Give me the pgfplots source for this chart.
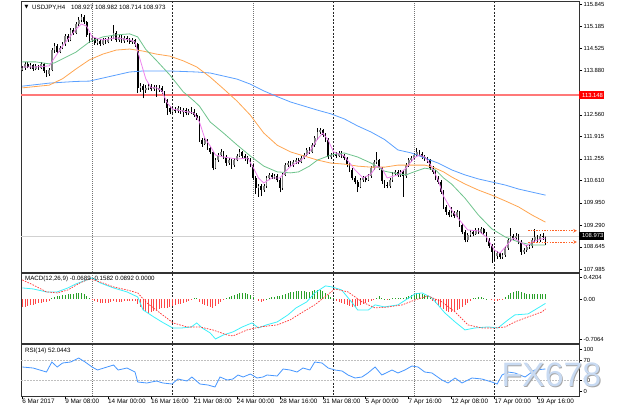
\documentclass[border=0pt]{standalone}
\usepackage{pgfplots}
\pgfplotsset{compat=1.18}
\usepackage{pgfplotstable}
\usepackage{fontspec}
\setmainfont{Liberation Sans}
\newfontfamily\dejavu{DejaVu Sans}
\definecolor{mtpink}{RGB}{238,130,238}
\definecolor{mtgreen}{RGB}{110,195,140}
\definecolor{mtorange}{RGB}{255,165,80}
\definecolor{mtblue}{RGB}{90,160,255}
\definecolor{hgreen}{RGB}{40,160,40}
\definecolor{hred}{RGB}{255,70,70}
\definecolor{sigred}{RGB}{255,50,50}
\definecolor{macdcyan}{RGB}{60,240,250}
\definecolor{rsiblue}{RGB}{70,150,255}
\definecolor{levred}{RGB}{255,120,120}
\definecolor{arrorange}{RGB}{255,100,40}
\definecolor{wmark}{RGB}{200,218,242}

\pgfplotstableread{
i o h l c
0 113.90 114.00 113.85 113.95
1 113.95 114.12 113.90 114.07
2 114.07 114.13 113.94 113.98
3 113.98 114.09 113.93 114.04
4 114.04 114.08 113.87 113.92
5 113.92 114.06 113.88 114.01
6 114.01 114.05 113.90 113.95
7 113.95 114.12 113.92 114.07
8 114.07 114.10 113.80 113.86
9 113.86 113.90 113.68 113.77
10 113.77 113.95 113.72 113.89
11 113.89 114.55 113.85 114.48
12 114.48 114.68 114.40 114.60
13 114.60 114.65 114.36 114.42
14 114.42 114.60 114.38 114.54
15 114.54 114.72 114.50 114.66
16 114.66 114.95 114.60 114.90
17 114.90 114.96 114.72 114.78
18 114.78 115.12 114.74 115.07
19 115.07 115.14 114.93 114.99
20 114.99 115.30 114.95 115.25
21 115.25 115.45 115.20 115.37
22 115.37 115.55 115.30 115.46
23 115.46 115.52 115.25 115.31
24 115.31 115.35 114.88 114.93
25 114.93 114.98 114.70 114.78
26 114.78 114.90 114.72 114.84
27 114.84 114.88 114.63 114.69
28 114.69 114.80 114.62 114.75
29 114.75 114.80 114.60 114.66
30 114.66 114.84 114.62 114.78
31 114.78 114.83 114.66 114.72
32 114.72 114.87 114.68 114.81
33 114.81 114.90 114.76 114.84
34 114.84 115.22 114.80 114.99
35 114.99 115.05 114.72 114.78
36 114.78 114.93 114.73 114.87
37 114.87 114.92 114.70 114.75
38 114.75 114.90 114.70 114.84
39 114.84 114.89 114.72 114.78
40 114.78 114.84 114.66 114.72
41 114.72 114.83 114.66 114.78
42 114.78 114.82 114.58 114.66
43 114.66 114.70 113.20 113.36
44 113.36 113.50 113.25 113.41
45 113.41 113.46 113.05 113.30
46 113.30 113.44 113.22 113.36
47 113.36 113.48 113.30 113.41
48 113.41 113.47 113.26 113.33
49 113.33 113.45 113.28 113.39
50 113.39 113.44 113.10 113.30
51 113.30 113.43 113.25 113.36
52 113.36 113.40 113.18 113.24
53 113.24 113.28 112.92 113.00
54 113.00 113.04 112.55 112.76
55 112.76 112.82 112.58 112.64
56 112.64 112.80 112.60 112.73
57 112.73 112.80 112.62 112.67
58 112.67 112.82 112.62 112.76
59 112.76 112.80 112.58 112.64
60 112.64 112.76 112.50 112.70
61 112.70 112.75 112.55 112.61
62 112.61 112.73 112.56 112.67
63 112.67 112.80 112.58 112.64
64 112.64 112.72 112.50 112.56
65 112.56 112.62 112.40 112.47
66 112.47 112.52 111.75 111.81
67 111.81 111.88 111.62 111.70
68 111.70 111.88 111.66 111.81
69 111.81 111.85 111.52 111.58
70 111.58 111.62 111.40 111.46
71 111.46 111.50 110.92 110.98
72 110.98 111.28 110.95 111.22
73 111.22 111.42 111.16 111.37
74 111.37 111.55 111.32 111.46
75 111.46 111.50 111.25 111.31
76 111.31 111.36 111.05 111.13
77 111.13 111.28 111.08 111.22
78 111.22 111.26 110.95 111.07
79 111.07 111.28 111.02 111.22
80 111.22 111.40 111.18 111.34
81 111.34 111.55 111.30 111.46
82 111.46 111.50 111.28 111.34
83 111.34 111.40 111.20 111.28
84 111.28 111.34 111.10 111.22
85 111.22 111.28 111.00 111.07
86 111.07 111.10 110.62 110.69
87 110.69 110.74 110.20 110.39
88 110.39 110.52 110.13 110.45
89 110.45 110.50 110.15 110.33
90 110.33 110.52 110.28 110.45
91 110.45 110.75 110.40 110.69
92 110.69 110.85 110.62 110.78
93 110.78 110.84 110.66 110.72
94 110.72 110.82 110.66 110.75
95 110.75 110.80 110.56 110.63
96 110.63 110.68 110.26 110.39
97 110.39 110.84 110.34 110.78
98 110.78 111.12 110.74 111.07
99 111.07 111.20 111.00 111.13
100 111.13 111.18 111.00 111.07
101 111.07 111.22 111.02 111.16
102 111.16 111.28 111.10 111.22
103 111.22 111.27 111.10 111.16
104 111.16 111.34 111.12 111.28
105 111.28 111.44 111.24 111.37
106 111.37 111.58 111.33 111.52
107 111.52 111.60 111.40 111.46
108 111.46 111.72 111.42 111.67
109 111.67 111.93 111.62 111.87
110 111.87 112.17 111.82 112.05
111 112.05 112.18 111.98 112.11
112 112.11 112.15 111.90 111.96
113 111.96 112.02 111.75 111.81
114 111.81 111.86 111.25 111.31
115 111.31 111.44 111.26 111.37
116 111.37 111.47 111.32 111.40
117 111.40 111.46 111.28 111.34
118 111.34 111.50 111.30 111.43
119 111.43 111.48 111.28 111.34
120 111.34 111.40 111.22 111.28
121 111.28 111.32 111.00 111.07
122 111.07 111.12 110.86 110.93
123 110.93 110.98 110.62 110.69
124 110.69 110.74 110.50 110.57
125 110.57 110.62 110.27 110.42
126 110.42 110.68 110.38 110.63
127 110.63 110.76 110.58 110.69
128 110.69 110.74 110.56 110.63
129 110.63 110.82 110.60 110.75
130 110.75 111.04 110.70 110.98
131 110.98 111.22 110.94 111.16
132 111.16 111.46 111.10 111.22
133 111.22 111.26 110.92 110.98
134 110.98 111.02 110.52 110.60
135 110.60 110.64 110.40 110.48
136 110.48 110.56 110.38 110.45
137 110.45 110.70 110.40 110.63
138 110.63 110.86 110.58 110.81
139 110.81 110.94 110.76 110.87
140 110.87 110.92 110.72 110.78
141 110.78 110.94 110.72 110.87
142 110.87 110.92 110.13 110.75
143 110.75 111.12 110.70 111.07
144 111.07 111.28 111.02 111.22
145 111.22 111.35 111.16 111.28
146 111.28 111.44 111.24 111.37
147 111.37 111.58 111.32 111.46
148 111.46 111.52 111.34 111.40
149 111.40 111.45 111.25 111.31
150 111.31 111.38 111.20 111.28
151 111.28 111.32 111.14 111.22
152 111.22 111.26 110.92 110.98
153 110.98 111.04 110.80 110.87
154 110.87 110.92 110.62 110.69
155 110.69 110.74 110.50 110.57
156 110.57 110.62 110.20 110.27
157 110.27 110.32 109.76 109.83
158 109.83 109.88 109.60 109.68
159 109.68 109.74 109.52 109.59
160 109.59 109.83 109.54 109.65
161 109.65 109.72 109.50 109.56
162 109.56 109.75 109.50 109.68
163 109.68 109.72 109.24 109.30
164 109.30 109.35 109.02 109.09
165 109.09 109.14 108.78 108.85
166 108.85 109.06 108.80 109.00
167 109.00 109.15 108.95 109.09
168 109.09 109.14 108.96 109.03
169 109.03 109.22 109.00 109.15
170 109.15 109.20 109.03 109.09
171 109.09 109.25 109.04 109.18
172 109.18 109.22 109.00 109.06
173 109.06 109.10 108.78 108.85
174 108.85 108.90 108.60 108.67
175 108.67 108.72 108.17 108.49
176 108.49 108.55 108.22 108.38
177 108.38 108.52 108.30 108.46
178 108.46 108.50 108.28 108.35
179 108.35 108.48 108.30 108.41
180 108.41 108.66 108.36 108.61
181 108.61 108.90 108.56 108.85
182 108.85 109.20 108.80 108.97
183 108.97 109.04 108.84 108.91
184 108.91 109.06 108.86 108.97
185 108.97 109.02 108.72 108.79
186 108.79 108.84 108.42 108.49
187 108.49 108.62 108.44 108.55
188 108.55 108.70 108.50 108.64
189 108.64 108.74 108.58 108.67
190 108.67 108.92 108.62 108.85
191 108.85 109.18 108.80 108.94
192 108.94 109.00 108.78 108.85
193 108.85 109.04 108.80 108.97
194 108.97 109.05 108.86 108.927
195 108.927 108.982 108.714 108.973
}\ohlc

\begin{document}
\fontsize{6.3}{7.5}\selectfont
\begin{tikzpicture}
\path[use as bounding box] (0bp,0bp) rectangle (630bp,-410bp);
% weekly separators
\foreach \xx in {92.1,253.1,414.1}{
  \draw[black!55, line width=0.6bp, dash pattern=on 1bp off 1bp] (\xx bp,-1bp) -- (\xx bp,-396bp);}
\foreach \xx in {172.6,333.6,494.5}{
  \draw[black!85, line width=0.6bp, dash pattern=on 2bp off 1.5bp] (\xx bp,-1bp) -- (\xx bp,-396bp);}

%================ MAIN PRICE PANEL
\begin{axis}[
  at={(21bp,-1bp)}, anchor=north west, scale only axis,
  width=558bp, height=271bp,
  xmin=-0.5, xmax=207.5, ymin=107.902, ymax=115.934,
  xtick=\empty,
  ytick={115.845,115.185,114.525,113.880,112.560,111.915,111.255,110.610,109.950,109.290,108.645,107.985},
  yticklabels={115.845,115.185,114.525,113.880,112.560,111.915,111.255,110.610,109.950,109.290,108.645,107.985},
  ytick pos=right, yticklabel pos=right,
  tick align=outside, major tick length=3bp,
  tick style={black, line width=0.5bp},
  yticklabel style={font=\fontsize{5.9}{7}\selectfont, inner sep=1.5bp},
  axis line style={black!80, line width=0.6bp},
  clip=false,
]
% horizontal lines
\addplot[black!18, line width=0.7bp] coordinates {(-0.5,108.973) (207.5,108.973)};
\addplot[levred, line width=1.4bp] coordinates {(-0.5,113.148) (207.5,113.148)};
% candles: wicks
\addplot[black, line width=0.55bp, quiver={u=0, v=\thisrow{h}-\thisrow{l}}] table[x=i, y=l] {\ohlc};
% bull bodies
\addplot[black!50, line width=1.7bp, quiver={u=0, v=\thisrow{c}-\thisrow{o}},
  restrict expr to domain={\thisrow{c}-\thisrow{o}}{0:100}] table[x=i, y=o] {\ohlc};
% bear bodies
\addplot[black, line width=1.7bp, quiver={u=0, v=\thisrow{c}-\thisrow{o}},
  restrict expr to domain={\thisrow{c}-\thisrow{o}}{-100:-0.00001}] table[x=i, y=o] {\ohlc};
% moving averages
\addplot[mtblue, line width=0.8bp] coordinates {(0,113.41) (10,113.50) (20,113.55) (25,113.56) (30,113.65) (35,113.74) (40,113.83) (45,113.86) (55,113.86) (65,113.83) (70,113.80) (75,113.71) (80,113.62) (85,113.47) (90,113.27) (95,113.10) (100,112.94) (105,112.82) (110,112.70) (115,112.59) (120,112.44) (125,112.23) (130,112.05) (135,111.83) (140,111.52) (145,111.43) (150,111.28) (155,111.13) (160,110.93) (165,110.78) (170,110.66) (175,110.57) (180,110.48) (185,110.36) (190,110.27) (195,110.18)};
\addplot[mtorange, line width=0.8bp] coordinates {(0,113.36) (10,113.44) (15,113.63) (20,113.92) (25,114.19) (30,114.36) (35,114.48) (40,114.51) (45,114.45) (50,114.36) (55,114.30) (60,114.16) (65,113.98) (70,113.68) (75,113.33) (80,112.97) (85,112.55) (90,112.02) (95,111.66) (100,111.46) (105,111.34) (110,111.22) (115,111.13) (120,111.10) (125,111.04) (130,111.01) (135,111.01) (140,111.07) (145,111.07) (150,111.07) (153,111.01) (157,110.87) (160,110.72) (165,110.51) (170,110.33) (175,110.18) (180,110.01) (185,109.83) (190,109.59) (195,109.38)};
\addplot[mtgreen, line width=0.8bp] coordinates {(0,114.13) (5,114.13) (10,114.07) (12,114.10) (15,114.22) (20,114.42) (25,114.72) (30,114.87) (35,114.93) (40,114.96) (43,114.87) (46,114.50) (50,114.17) (55,113.74) (60,113.24) (64,112.97) (66,112.82) (70,112.35) (75,112.02) (80,111.67) (85,111.34) (88,111.16) (90,111.04) (95,110.87) (100,110.84) (103,110.87) (107,111.04) (110,111.22) (115,111.37) (120,111.43) (125,111.31) (130,111.13) (135,110.89) (140,110.81) (143,110.78) (146,110.87) (150,110.98) (154,110.93) (157,110.69) (160,110.51) (165,110.09) (170,109.59) (175,109.18) (180,108.94) (185,108.79) (190,108.70) (195,108.70)};
\addplot[mtpink, line width=0.8bp] coordinates {(0,113.98) (5,113.98) (10,114.01) (12,114.25) (15,114.60) (18,114.90) (20,115.10) (22,115.25) (24,115.19) (26,114.87) (30,114.78) (35,114.84) (40,114.78) (42,114.72) (44,114.17) (46,113.63) (48,113.36) (50,113.36) (52,113.27) (54,112.91) (56,112.73) (60,112.67) (64,112.61) (66,112.35) (68,111.87) (70,111.64) (72,111.37) (75,111.31) (80,111.25) (84,111.28) (86,111.01) (88,110.69) (90,110.54) (93,110.69) (96,110.69) (98,110.87) (100,111.04) (104,111.22) (107,111.46) (110,111.84) (112,112.02) (114,111.81) (116,111.46) (120,111.34) (124,110.93) (127,110.69) (130,110.81) (132,111.04) (134,110.98) (136,110.69) (140,110.78) (143,110.98) (146,111.28) (148,111.37) (150,111.31) (152,111.10) (155,110.63) (157,110.15) (160,109.74) (163,109.44) (166,109.15) (170,109.12) (173,108.94) (176,108.55) (178,108.46) (180,108.64) (183,108.91) (185,108.82) (188,108.67) (190,108.79) (192,108.85) (195,108.91)};
% high/low arrows
\addplot[arrorange, line width=0.6bp, dash pattern=on 1.5bp off 1.2bp, -stealth] coordinates {(188.5,109.126) (206.7,109.126)};
\addplot[arrorange, line width=0.6bp, dash pattern=on 1.5bp off 1.2bp, -stealth] coordinates {(188.5,108.791) (206.7,108.791)};
% price boxes
\node[fill=red, text=white, anchor=west, inner sep=0.8bp, minimum height=7.5bp, font=\fontsize{5.9}{7}\selectfont] at (axis cs:207.5,113.148) {\hspace{2.2bp}113.148\hspace{2.5bp}};
\node[fill=black, text=white, anchor=west, inner sep=0.8bp, minimum height=7.5bp, font=\fontsize{5.9}{7}\selectfont] at (axis cs:207.5,108.973) {\hspace{2.2bp}108.973\hspace{2.5bp}};
\end{axis}

%================ MACD PANEL
\begin{axis}[
  at={(21bp,-273bp)}, anchor=north west, scale only axis,
  width=558bp, height=70bp,
  xmin=-0.5, xmax=207.5, ymin=-0.7064, ymax=0.4204,
  xtick=\empty,
  ytick={-0.642,0,0.356},
  yticklabels={-0.7064,0.00,0.4204},
  ytick pos=right, yticklabel pos=right,
  tick align=outside, major tick length=3bp,
  tick style={black, line width=0.5bp},
  yticklabel style={font=\fontsize{5.9}{7}\selectfont, inner sep=1.5bp},
  axis line style={black!80, line width=0.6bp},
]
\addplot[ycomb, hgreen, line width=0.8bp, restrict y to domain=0:1] coordinates {
(11,0.016) (12,0.032) (13,0.048) (14,0.048) (15,0.064) (16,0.064) (17,0.081) (18,0.081) (19,0.081) (20,0.097) (21,0.097) (22,0.097) (23,0.081) (24,0.048) (25,0.016)
(64,0.016) (65,0.016)
(76,0.016) (77,0.032) (78,0.048) (79,0.064) (80,0.081) (81,0.097) (82,0.097) (83,0.097) (84,0.081) (85,0.064) (86,0.032)
(91,0.008) (92,0.016) (93,0.032) (94,0.032) (95,0.048) (96,0.048) (97,0.064) (98,0.081) (99,0.097) (100,0.113) (101,0.113) (102,0.129) (103,0.129) (104,0.129) (105,0.129) (106,0.113) (107,0.113) (108,0.129) (109,0.145) (110,0.145)
(111,0.145) (112,0.129) (113,0.097) (114,0.064) (115,0.032) (116,0.016)
(132,0.016) (133,0.048) (134,0.016) (135,0.008) (137,0.008) (138,0.016)
(139,0.016) (140,0.016) (141,0.016) (142,0.016) (143,0.032) (144,0.048) (145,0.064) (146,0.081)
(147,0.097) (148,0.097) (149,0.081) (150,0.064) (151,0.048) (152,0.016)
(168,0.016) (169,0.016) (170,0.032) (171,0.032) (172,0.016) (173,0.008)
(180,0.032) (181,0.064) (182,0.097) (183,0.113) (184,0.129) (185,0.129) (186,0.113) (187,0.097) (188,0.081) (189,0.081) (190,0.081) (191,0.081) (192,0.081) (193,0.081) (194,0.081) (195,0.089)};
\addplot[ycomb, hred, line width=0.8bp, restrict y to domain=-1:0] coordinates {
(0,-0.129) (1,-0.129) (2,-0.113) (3,-0.097) (4,-0.097) (5,-0.081) (6,-0.064) (7,-0.064) (8,-0.048) (9,-0.048) (10,-0.032)
(26,-0.016) (27,-0.032) (28,-0.048) (29,-0.064) (30,-0.064) (31,-0.064) (32,-0.064) (33,-0.048) (34,-0.032) (35,-0.048) (36,-0.048) (37,-0.048) (38,-0.032) (39,-0.032) (40,-0.032) (41,-0.032) (42,-0.032)
(43,-0.081) (44,-0.129) (45,-0.177) (46,-0.209) (47,-0.225) (48,-0.209) (49,-0.193) (50,-0.177) (51,-0.161) (52,-0.145) (53,-0.145) (54,-0.145) (55,-0.129) (56,-0.113) (57,-0.097) (58,-0.081) (59,-0.081) (60,-0.064) (61,-0.048) (62,-0.032) (63,-0.016)
(66,-0.048) (67,-0.081) (68,-0.097) (69,-0.113) (70,-0.129) (71,-0.145) (72,-0.113) (73,-0.081) (74,-0.048) (75,-0.016)
(88,-0.032) (89,-0.048) (90,-0.032)
(117,-0.032) (118,-0.048) (119,-0.064) (120,-0.081) (121,-0.097) (122,-0.113) (123,-0.129) (124,-0.129) (125,-0.113) (126,-0.097) (127,-0.081) (128,-0.064) (129,-0.048) (130,-0.032)
(131,-0.016) (136,-0.008)
(153,-0.032) (154,-0.064) (155,-0.097) (156,-0.129) (157,-0.161) (158,-0.193) (159,-0.209) (160,-0.209) (161,-0.193) (162,-0.177) (163,-0.161) (164,-0.129) (165,-0.097) (166,-0.064) (167,-0.032)
(175,-0.016) (176,-0.032) (177,-0.032) (178,-0.016) (179,-0.008)};
\addplot[macdcyan, line width=0.8bp] coordinates {(0,0.180) (4,0.164) (9,0.116) (13,0.116) (17,0.180) (20,0.245) (23,0.293) (26,0.341) (29,0.261) (34,0.180) (39,0.116) (43,0.035) (45,-0.174) (49,-0.287) (52,-0.367) (56,-0.464) (59.5,-0.464) (63,-0.448) (65,-0.383) (67,-0.464) (70,-0.544) (72,-0.641) (75,-0.576) (78.5,-0.528) (82,-0.448) (85.6,-0.383) (88,-0.464) (91,-0.415) (95,-0.367) (99,-0.254) (102,-0.142) (106,-0.045) (109,0.100) (113,0.213) (115.4,0.196) (119,0.148) (123,-0.061) (125,-0.174) (129,-0.174) (131.5,-0.093) (135,-0.126) (140,-0.093) (146.4,0.084) (149,0.100) (152.7,0.019) (157.5,-0.222) (161.3,-0.367) (165,-0.496) (168.7,-0.464) (173.6,-0.448) (177.3,-0.464) (181,-0.335) (183.6,-0.254) (188.5,-0.238) (191,-0.174) (195,-0.069)};
\addplot[sigred, line width=0.7bp, dash pattern=on 1.6bp off 1.2bp] coordinates {(0,0.309) (4,0.229) (9,0.116) (13,0.100) (17,0.148) (21.5,0.261) (25,0.325) (29,0.277) (34,0.196) (39,0.148) (43,0.100) (46.4,-0.061) (51.3,-0.222) (56.2,-0.383) (61.4,-0.448) (66.2,-0.448) (71,-0.496) (76.3,-0.576) (78.5,-0.592) (83.8,-0.496) (88.6,-0.448) (95,-0.415) (99.8,-0.335) (104.6,-0.206) (109,-0.093) (116.5,0.164) (121.4,0.116) (126.6,-0.045) (131.5,-0.142) (136.4,-0.126) (141.6,-0.093) (146.4,-0.013) (151.2,0.052) (156.4,-0.045) (161.3,-0.206) (166.1,-0.415) (171.3,-0.464) (176.1,-0.464) (180,-0.448) (183.6,-0.367) (188.5,-0.287) (193.7,-0.206) (195,-0.158)};
\end{axis}

%================ RSI PANEL
\begin{axis}[
  at={(21bp,-344bp)}, anchor=north west, scale only axis,
  width=558bp, height=52bp,
  xmin=-0.5, xmax=207.5, ymin=-2, ymax=102,
  xtick={0,16,32,48,64,80,96,112,128,144,160,176,192},
  xticklabels={6 Mar 2017,9 Mar 08:00,14 Mar 00:00,16 Mar 16:00,21 Mar 08:00,24 Mar 00:00,28 Mar 16:00,31 Mar 08:00,5 Apr 00:00,7 Apr 16:00,12 Apr 08:00,17 Apr 00:00,19 Apr 16:00},
  xtick pos=left,
  xticklabel style={anchor=north west, xshift=-1.2bp, yshift=1bp, font=\fontsize{6.4}{7.5}\selectfont, inner sep=1bp},
  ytick={8,30,70,92},
  yticklabels={0,30,70,100},
  ytick pos=right, yticklabel pos=right,
  tick align=outside, major tick length=3bp,
  tick style={black, line width=0.5bp},
  yticklabel style={font=\fontsize{5.9}{7}\selectfont, inner sep=1.5bp},
  axis line style={black!80, line width=0.6bp},
]
\addplot[black!25, line width=0.5bp, dash pattern=on 1.5bp off 1.5bp] coordinates {(-0.5,70) (207.5,70)};
\addplot[black!25, line width=0.5bp, dash pattern=on 1.5bp off 1.5bp] coordinates {(-0.5,30) (207.5,30)};
\addplot[rsiblue, line width=0.8bp] coordinates {(0,56) (4,54) (9,46) (11,66) (13,56) (15,64) (18,66) (21,74) (23.4,66) (26,56) (28,50) (31.6,56) (34,60) (35.7,50) (39,54) (42,46) (43,26) (46.4,24) (50,28) (52.4,24) (55.8,22) (58,32) (61.4,28) (63.2,36) (66.2,22) (69.2,20) (71.8,16) (73.7,36) (76.3,30) (78.5,32) (80.4,40) (82.3,36) (85,42) (87.5,34) (89.7,36) (91.2,40) (95,38) (97.2,52) (99.8,50) (102.4,46) (104.6,54) (107.2,50) (109,66) (111.7,64) (114,54) (116.5,50) (119.2,48) (121.4,40) (124,34) (126.6,36) (128.8,44) (131.5,56) (134,40) (137.8,50) (140,44) (142.6,50) (145.2,58) (147.5,56) (150,46) (152.7,44) (156.4,30) (158.7,24) (161.3,34) (163.9,24) (167.6,34) (171.3,32) (175,26) (177,22) (178.8,40) (181,46) (183.6,44) (187.4,36) (191,50) (195,52.04)};
\end{axis}

% panel titles
\node[anchor=west, inner sep=0, font=\dejavu\fontsize{5}{6}\selectfont] at (24.5bp,-7.5bp) {▼};
\node[anchor=west, inner sep=0, font=\fontsize{6.2}{7}\selectfont] at (32bp,-7.5bp) {USDJPY,H4};
\node[anchor=west, inner sep=0, font=\fontsize{6.2}{7}\selectfont] at (71bp,-7.5bp) {108.927};
\node[anchor=west, inner sep=0, font=\fontsize{6.2}{7}\selectfont] at (95bp,-7.5bp) {108.982};
\node[anchor=west, inner sep=0, font=\fontsize{6.2}{7}\selectfont] at (119bp,-7.5bp) {108.714};
\node[anchor=west, inner sep=0, font=\fontsize{6.2}{7}\selectfont] at (143bp,-7.5bp) {108.973};
\node[anchor=west, inner sep=0, font=\fontsize{6.2}{7}\selectfont] at (25bp,-278.5bp) {MACD(12,26,9) -0.0689 -0.1582 0.0892 0.0000};
\node[anchor=west, inner sep=0, font=\fontsize{6.2}{7}\selectfont] at (25bp,-350.5bp) {RSI(14) 52.0443};
% watermark
\node[anchor=center, inner sep=0, text=black!35, font=\fontsize{34}{34}\selectfont] at (552.2bp,-375.8bp) {FX678};
\node[anchor=center, inner sep=0, text=wmark, font=\fontsize{34}{34}\selectfont] at (551.4bp,-375bp) {FX678};
\end{tikzpicture}
\end{document}
